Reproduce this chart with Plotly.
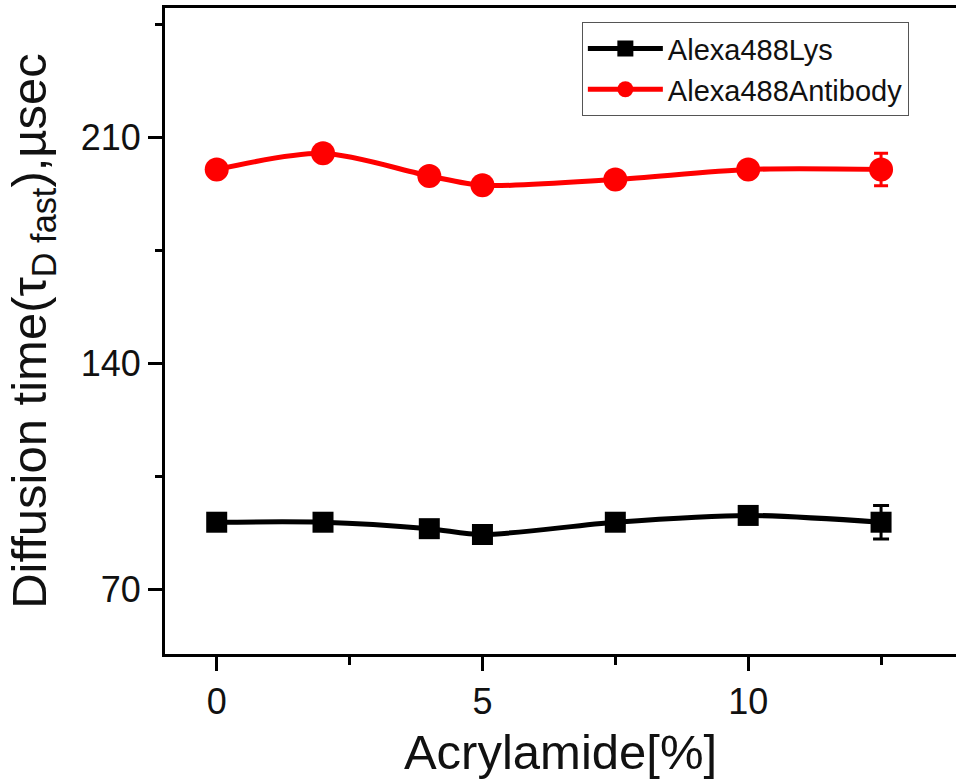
import plotly.graph_objects as go

acrylamide = [0, 2, 4, 5, 7.5, 10, 12.5]
lys = [90.8, 90.8, 88.8, 87.0, 90.8, 92.9, 90.8]
lys_err = [1.0, 1.0, 1.0, 2.0, 1.0, 2.5, 5.2]
antibody = [200.0, 205.0, 198.0, 195.1, 196.9, 200.0, 200.0]
antibody_err = [1.0, 1.5, 1.0, 1.0, 1.0, 1.0, 5.0]

FONT = "Liberation Sans, Arial, sans-serif"

fig = go.Figure()
fig.add_trace(go.Scatter(
    x=acrylamide, y=lys, name="Alexa488Lys", mode="lines+markers",
    line=dict(color="#000000", width=5, shape="spline", smoothing=0.8),
    marker=dict(symbol="square", size=21, color="#000000"),
    error_y=dict(type="data", array=lys_err, color="#000000", thickness=3, width=8),
))
fig.add_trace(go.Scatter(
    x=acrylamide, y=antibody, name="Alexa488Antibody", mode="lines+markers",
    line=dict(color="#ff0000", width=5, shape="spline", smoothing=0.8),
    marker=dict(symbol="circle", size=24, color="#ff0000"),
    error_y=dict(type="data", array=antibody_err, color="#ff0000", thickness=3, width=7),
))

fig.update_layout(
    width=956, height=779,
    margin=dict(l=165, r=0, t=8, b=125),
    paper_bgcolor="white", plot_bgcolor="white",
    font=dict(family=FONT, color="#111111"),
    showlegend=True,
    legend=dict(
        x=0.527, y=0.978, xanchor="left", yanchor="top",
        bordercolor="#555555", borderwidth=1, bgcolor="white",
        font=dict(family=FONT, size=29, color="#111111"),
        itemwidth=75, tracegroupgap=0,
    ),
)
fig.update_xaxes(
    range=[-0.973, 13.91], tick0=0, dtick=5,
    showline=True, linewidth=3, linecolor="#000000", mirror=True,
    ticks="outside", ticklen=14, tickwidth=3, tickcolor="#000000",
    minor=dict(tick0=0, dtick=2.5, ticks="outside", ticklen=8, tickwidth=3, tickcolor="#000000"),
    showgrid=False, zeroline=False,
    tickfont=dict(family=FONT, size=36, color="#111111"),
    title=dict(text="Acrylamide[%]", font=dict(family=FONT, size=49, color="#111111"), standoff=16),
)
fig.update_yaxes(
    range=[50, 250], tick0=0, dtick=70,
    showline=True, linewidth=3, linecolor="#000000", mirror=False,
    ticks="outside", ticklen=14, tickwidth=3, tickcolor="#000000",
    minor=dict(tick0=0, dtick=35, ticks="outside", ticklen=7, tickwidth=3, tickcolor="#000000"),
    showgrid=False, zeroline=False,
    tickfont=dict(family=FONT, size=36, color="#111111"),
    title=dict(text="Diffusion time(τ<sub>D fast</sub>),µsec", font=dict(family=FONT, size=49, color="#111111"), standoff=19),
)

fig.write_html("out.html")
